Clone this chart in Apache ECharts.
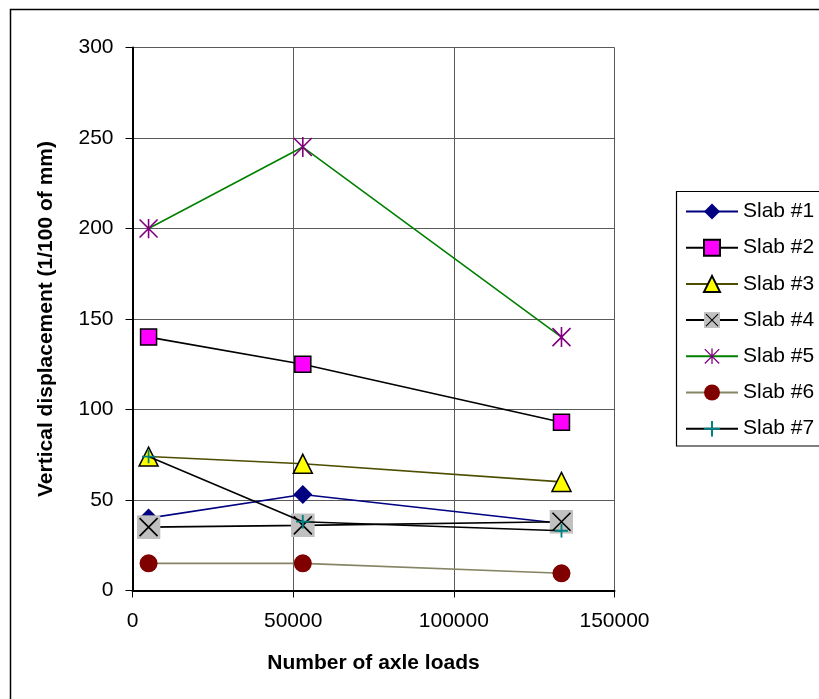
<!DOCTYPE html>
<html>
<head>
<meta charset="utf-8">
<script src="https://cdn.jsdelivr.net/npm/echarts@6/dist/echarts.min.js"></script>
<style>
html,body{margin:0;padding:0;background:#fff;}
#chart{width:819px;height:699px;}
</style>
</head>
<body>
<div id="chart"></div>
<script>
// ---- data ----
var axleLoads = [5000, 53000, 133500];
var seriesNames = ['Slab #1', 'Slab #2', 'Slab #3', 'Slab #4', 'Slab #5', 'Slab #6', 'Slab #7'];
var slab1 = [40, 53, 37];
var slab2 = [140, 125, 93];
var slab3 = [74, 70, 60];
var slab4 = [35, 36, 38];
var slab5 = [200, 245, 140];
var slab6 = [15, 15, 9.5];
var slab7 = [74, 38, 33];
var xTicks = [0, 50000, 100000, 150000];
var yTicks = [0, 50, 100, 150, 200, 250, 300];

function svgSym(svg) {
  return 'image://data:image/svg+xml;charset=utf-8,' + encodeURIComponent(svg);
}
var symXGray = svgSym("<svg xmlns='http://www.w3.org/2000/svg' width='24' height='24' viewBox='0 0 24 24'><rect width='24' height='24' fill='#c0c0c0'/><path d='M3 3L21 21M21 3L3 21' stroke='#000' stroke-width='1.6' fill='none'/></svg>");
var symStar = svgSym("<svg xmlns='http://www.w3.org/2000/svg' width='20' height='20' viewBox='0 0 20 20'><path d='M1 1L19 19M19 1L1 19M10 0L10 20' stroke='#800080' stroke-width='1.6' fill='none'/></svg>");
var symPlus = svgSym("<svg xmlns='http://www.w3.org/2000/svg' width='14' height='14' viewBox='0 0 14 14'><path d='M7 0L7 14M0 7L14 7' stroke='#008080' stroke-width='1.8' fill='none'/></svg>");

function pts(vals) {
  return vals.map(function (v, i) { return [axleLoads[i], v]; });
}

var styles = [
  {data: slab1, line: '#000080', symbol: 'diamond', size: 19, color: '#000080', border: '#000080', bw: 0},
  {data: slab2, line: '#000000', symbol: 'rect', size: 16, color: '#ff00ff', border: '#000000', bw: 1.5},
  {data: slab3, line: '#4d4d00', symbol: 'triangle', size: 19, color: '#ffff00', border: '#000000', bw: 1.5},
  {data: slab4, line: '#000000', symbol: symXGray, size: 24, color: '#c0c0c0', border: '#000000', bw: 0},
  {data: slab5, line: '#008000', symbol: symStar, size: 20, color: '#800080', border: '#800080', bw: 0},
  {data: slab6, line: '#858566', symbol: 'circle', size: 18, color: '#800000', border: '#800000', bw: 0},
  {data: slab7, line: '#000000', symbol: symPlus, size: 14, color: '#008080', border: '#008080', bw: 0}
];

var series = styles.map(function (s, i) {
  return {
    name: seriesNames[i],
    type: 'line',
    data: pts(s.data),
    symbol: s.symbol,
    symbolSize: s.size,
    showAllSymbol: true,
    animation: false,
    lineStyle: {color: s.line, width: 1.6},
    itemStyle: {color: s.color, borderColor: s.border, borderWidth: s.bw, opacity: 1},
    z: 2 + i
  };
});

var FONT = '"Liberation Sans", Arial, sans-serif';
var chart = echarts.init(document.getElementById('chart'), null, {renderer: 'canvas'});
chart.setOption({
  backgroundColor: '#ffffff',
  animation: false,
  textStyle: {fontFamily: FONT, color: '#000'},
  grid: {left: 132.5, right: 204.5, top: 47.5, bottom: 108.5, containLabel: false},
  xAxis: {
    type: 'value',
    min: xTicks[0], max: xTicks[xTicks.length - 1], interval: xTicks[1] - xTicks[0],
    name: 'Number of axle loads',
    nameLocation: 'middle',
    nameGap: 62,
    nameTextStyle: {fontFamily: FONT, fontSize: 21, fontWeight: 'bold', color: '#000'},
    axisLine: {show: true, onZero: false, lineStyle: {color: '#000', width: 2}},
    axisTick: {show: true, length: 7, inside: false, lineStyle: {color: '#000', width: 1}},
    axisLabel: {fontFamily: FONT, fontSize: 21, color: '#000', margin: 20,
      formatter: function (v) { return String(v); }},
    splitLine: {show: true, lineStyle: {color: '#5a5a5a', width: 1}}
  },
  yAxis: {
    type: 'value',
    min: yTicks[0], max: yTicks[yTicks.length - 1], interval: yTicks[1] - yTicks[0],
    name: 'Vertical displacement (1/100 of mm)',
    nameLocation: 'middle',
    nameGap: 76,
    nameRotate: 90,
    nameTextStyle: {fontFamily: FONT, fontSize: 21, fontWeight: 'bold', color: '#000'},
    axisLine: {show: true, lineStyle: {color: '#000', width: 2}},
    axisTick: {show: true, length: 7, inside: false, lineStyle: {color: '#000', width: 1}},
    axisLabel: {fontFamily: FONT, fontSize: 21, color: '#000', margin: 19,
      formatter: function (v) { return String(v); }},
    splitLine: {show: true, lineStyle: {color: '#5a5a5a', width: 1}}
  },
  legend: {
    orient: 'vertical',
    left: 685,
    top: 201,
    padding: 0,
    itemWidth: 52,
    itemHeight: 20,
    itemGap: 15.2,
    textStyle: {fontFamily: FONT, fontSize: 21, color: '#000', lineHeight: 21},
    data: seriesNames
  },
  graphic: [
    {type: 'rect', shape: {x: 10.5, y: 9.5, width: 900, height: 900}, style: {fill: 'none', stroke: '#000', lineWidth: 1.5}, silent: true, z: 0},
    {type: 'rect', shape: {x: 676.5, y: 191.5, width: 200, height: 254.5}, style: {fill: 'none', stroke: '#000', lineWidth: 1.2}, silent: true, z: 0}
  ],
  series: series
});
</script>
</body>
</html>
